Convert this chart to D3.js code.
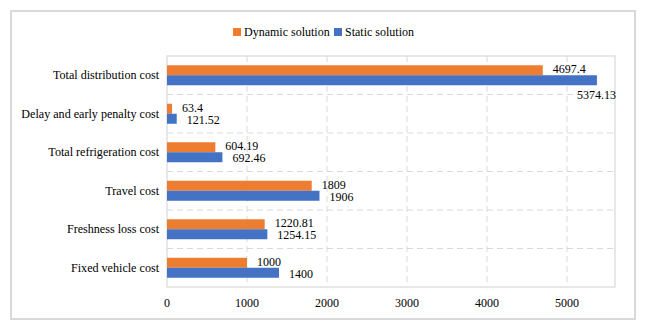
<!DOCTYPE html>
<html>
<head>
<meta charset="utf-8">
<script src="https://cdn.jsdelivr.net/npm/d3@7"></script>
<style>
  body { margin: 0; background: #fff; }
  svg { display: block; font-family: "Liberation Serif", "Times New Roman", serif; }
  .grid line { stroke: #d9d9d9; stroke-dasharray: 6 4; }
</style>
</head>
<body>
<svg id="chart" width="645" height="326"></svg>
<script>
const categories = ["Total distribution cost", "Delay and early penalty cost", "Total refrigeration cost",
  "Travel cost", "Freshness loss cost", "Fixed vehicle cost"];
const dynamicValues = [4697.4, 63.4, 604.19, 1809, 1220.81, 1000];
const staticValues = [5374.13, 121.52, 692.46, 1906, 1254.15, 1400];
const seriesNames = ["Dynamic solution", "Static solution"];
const xTicks = [0, 1000, 2000, 3000, 4000, 5000];

const colors = ["#ED7D31", "#4472C4"];

const svg = d3.select("#chart");
const margin = { left: 167, right: 30, top: 56, bottom: 39 };
const width = +svg.attr("width");
const height = +svg.attr("height");

// outer frame
svg.append("rect").attr("x", 11).attr("y", 11).attr("width", 624).attr("height", 308)
  .attr("fill", "#fff").attr("stroke", "#d9d9d9").attr("stroke-width", 2);

const x = d3.scaleLinear().domain([0, 5600]).range([margin.left, width - margin.right]);
const y = d3.scaleBand().domain(categories).range([margin.top, height - margin.bottom]);
const inner = d3.scaleBand().domain(seriesNames).range([0, 20]);
const barOffset = (y.bandwidth() - 20) / 2;

// gridlines
const grid = svg.append("g").attr("class", "grid");
grid.selectAll(".v").data(xTicks.slice(1)).enter().append("line")
  .attr("x1", d => x(d)).attr("x2", d => x(d))
  .attr("y1", margin.top).attr("y2", height - margin.bottom);
grid.selectAll(".h").data(categories.slice(1)).enter().append("line")
  .attr("x1", margin.left).attr("x2", width - margin.right)
  .attr("y1", d => y(d)).attr("y2", d => y(d));

svg.append("rect").attr("x", margin.left).attr("y", margin.top)
  .attr("width", width - margin.right - margin.left).attr("height", height - margin.bottom - margin.top)
  .attr("fill", "none").attr("stroke", "#d9d9d9").attr("stroke-width", 1.2);

// bars
const rows = categories.map((c, i) => ({ cat: c, vals: [dynamicValues[i], staticValues[i]] }));
const groups = svg.selectAll(".row").data(rows).enter().append("g")
  .attr("transform", d => `translate(0,${y(d.cat) + barOffset})`);
groups.selectAll("rect").data(d => d.vals.map((v, j) => ({ v, s: seriesNames[j], j })))
  .enter().append("rect")
  .attr("x", x(0)).attr("y", d => inner(d.s))
  .attr("width", d => x(d.v) - x(0)).attr("height", inner.bandwidth())
  .attr("fill", d => colors[d.j]);

// value labels (the one that would spill past the plot is tucked below, as Excel does)
groups.selectAll("text").data(d => d.vals.map((v, j) => ({ v, s: seriesNames[j], j })))
  .enter().append("text")
  .attr("x", d => {
    const px = x(d.v) + 10;
    return px + 42 > x(5600) ? x(5600) - 38 : px;
  })
  .attr("y", d => {
    const base = inner(d.s) + inner.bandwidth() / 2 + (d.j === 0 ? 3 : 5);
    return x(d.v) + 52 > x(5600) ? base + 14 : base;
  })
  .attr("font-size", 12).attr("fill", "#000")
  .text(d => d.v);

// category labels
svg.append("g").selectAll("text").data(categories).enter().append("text")
  .attr("x", margin.left - 8).attr("y", d => y(d) + y.bandwidth() / 2 + 4)
  .attr("text-anchor", "end").attr("font-size", 12.1).attr("fill", "#000")
  .text(d => d);

// x axis labels
svg.append("g").selectAll("text").data(xTicks).enter().append("text")
  .attr("x", d => x(d)).attr("y", 307)
  .attr("text-anchor", "middle").attr("font-size", 12).attr("fill", "#000")
  .text(d => d);

// legend
const legend = svg.append("g");
const legendX = [233, 334];
seriesNames.forEach((s, i) => {
  legend.append("rect").attr("x", legendX[i]).attr("y", 28).attr("width", 8).attr("height", 8)
    .attr("fill", colors[i]);
  legend.append("text").attr("x", legendX[i] + 11).attr("y", 36)
    .attr("font-size", 12).attr("fill", "#000").text(s);
});
</script>
</body>
</html>
